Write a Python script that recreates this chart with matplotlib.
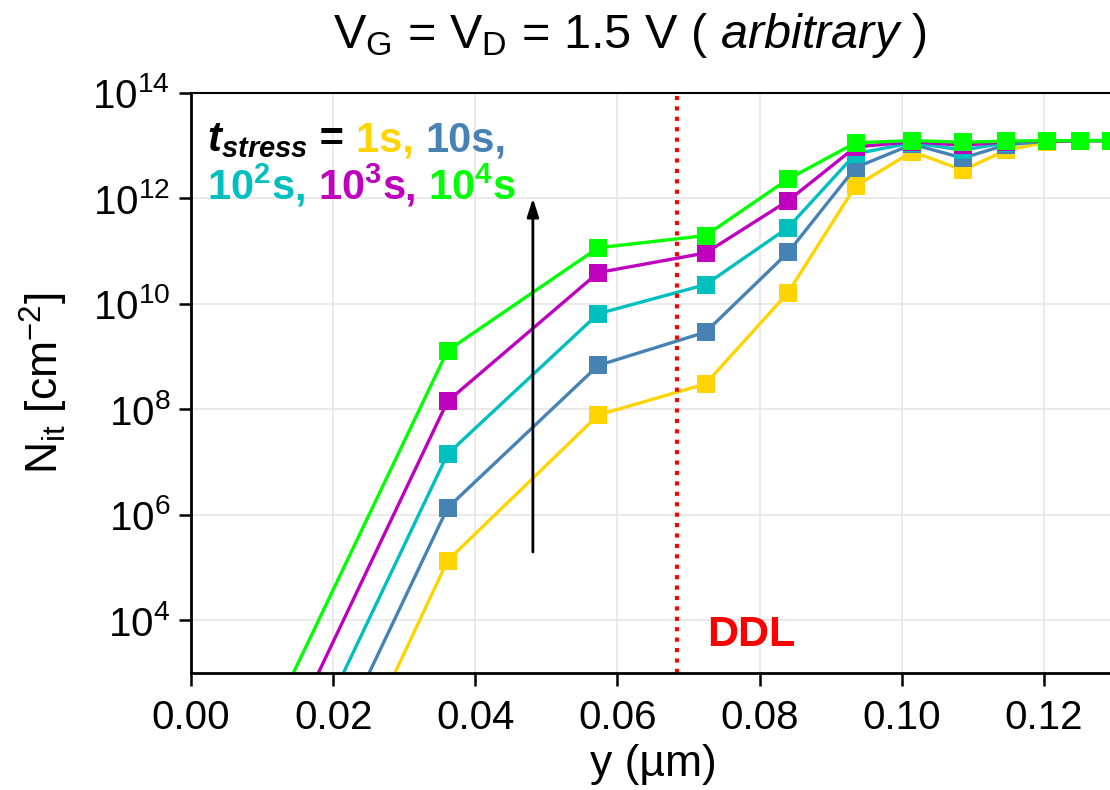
import matplotlib
matplotlib.use("Agg")
import matplotlib.pyplot as plt
import numpy as np
from matplotlib.ticker import FixedLocator, LogFormatterSciNotation, NullLocator
from matplotlib.offsetbox import TextArea, HPacker, VPacker, AnnotationBbox

plt.rcParams['font.family'] = ['Liberation Sans', 'DejaVu Sans']
plt.rcParams['mathtext.fontset'] = 'custom'
plt.rcParams['mathtext.rm'] = 'Liberation Sans'
plt.rcParams['mathtext.it'] = 'Liberation Sans:italic'
plt.rcParams['mathtext.bf'] = 'Liberation Sans:bold'
plt.rcParams['mathtext.bfit'] = 'Liberation Sans:italic:bold'
plt.rcParams['mathtext.default'] = 'regular'

# positions along channel (um)
y_um = [0.010, 0.0361, 0.0573, 0.0724, 0.0840, 0.0935, 0.1015, 0.1086, 0.1147, 0.1204, 0.1251, 0.1295]

# log10 of Nit for each stress time
log_1s   = [-2.37, 5.13, 7.89, 8.48, 10.21, 12.23, 12.88, 12.53, 12.91, 13.06, 13.09, 13.09]
log_10s  = [-1.27, 6.13, 8.83, 9.46, 10.97, 12.58, 13.02, 12.76, 13.01, 13.08, 13.09, 13.09]
log_1e2s = [-0.24, 7.15, 9.81, 10.36, 11.44, 12.84, 13.05, 12.91, 13.05, 13.08, 13.09, 13.09]
log_1e3s = [0.76, 8.15, 10.59, 10.96, 11.95, 12.97, 13.07, 13.00, 13.07, 13.08, 13.09, 13.09]
log_1e4s = [1.76, 9.11, 11.06, 11.29, 12.36, 13.05, 13.09, 13.06, 13.08, 13.09, 13.09, 13.09]

series = [log_1s, log_10s, log_1e2s, log_1e3s, log_1e4s]
colors = ['#FFD400', '#4682B4', '#00BFBF', '#BF00BF', '#00FF00']

ddl_x = 0.0684

fig = plt.figure(figsize=(11.1, 7.9), dpi=100)
ax = fig.add_axes([191/1110, 117/790, (1115-191)/1110, 580.4/790])

for vals, c in zip(series, colors):
    ax.plot(y_um, 10**np.array(vals), color=c, lw=2.4, marker='s', ms=13, mew=0)

ax.set_yscale('log')
ax.set_ylim(1e3, 1e14)
ax.set_xlim(0, 0.13)
ax.yaxis.set_major_locator(FixedLocator([1e4, 1e6, 1e8, 1e10, 1e12, 1e14]))
ax.yaxis.set_major_formatter(LogFormatterSciNotation())
ax.yaxis.set_minor_locator(NullLocator())
ax.set_xticks([0.00, 0.02, 0.04, 0.06, 0.08, 0.10, 0.12])
ax.set_xticklabels(['0.00', '0.02', '0.04', '0.06', '0.08', '0.10', '0.12'])
ax.grid(True, color='#e6e6e6', lw=1.2)
ax.set_axisbelow(True)
ax.tick_params(labelsize=29, width=1.8, length=9)
ax.tick_params(axis='x', pad=10)
ax.tick_params(axis='y', pad=6)
for s in ['left', 'bottom']:
    ax.spines[s].set_linewidth(2)
ax.spines['top'].set_linewidth(1.5)

ax.axvline(ddl_x, color='red', ls=(0, (1, 1.5)), lw=3)
ax.text(ddl_x + 0.0042, 10**3.72, 'DDL', color='red', fontsize=31, fontweight='bold', va='center')

ax.annotate('', xy=(0.0481, 10**12.05), xytext=(0.0481, 10**5.24),
            arrowprops=dict(arrowstyle='-|>,head_width=0.35,head_length=1.1', color='black', lw=2))

ax.set_xlabel('y (µm)', fontsize=32, labelpad=5)
ax.set_ylabel(r'N$_{it}$ [cm$^{-2}$]', fontsize=32, labelpad=16)
fig.text(630/1110, 1 - 35/790, r'V$_G$ = V$_D$ = 1.5 V ( $\mathit{arbitrary}$ )',
         fontsize=35, ha='center', va='center')

fs = 30
def piece(s, c):
    return TextArea(s, textprops=dict(color=c, fontsize=fs, fontweight='bold'))

line1 = HPacker(children=[piece(r'$\mathbfit{t}_{\mathbfit{stress}}$', 'black'),
                          piece(' = ', 'black'),
                          piece('1s, ', colors[0]),
                          piece('10s,', colors[1])],
                align='baseline', pad=0, sep=0)
line2 = HPacker(children=[piece(r'10$^{\mathbf{2}}$s', colors[2]),
                          piece(', ', colors[2]),
                          piece(r'10$^{\mathbf{3}}$s', colors[3]),
                          piece(', ', colors[3]),
                          piece(r'10$^{\mathbf{4}}$s', colors[4])],
                align='baseline', pad=0, sep=0)
box = VPacker(children=[line1, line2], align='left', pad=0, sep=6)
ab = AnnotationBbox(box, (207/1110, 1 - 120/790), xycoords='figure fraction',
                    box_alignment=(0, 1), frameon=False)
fig.add_artist(ab)

fig.savefig('out.png', dpi=100)
